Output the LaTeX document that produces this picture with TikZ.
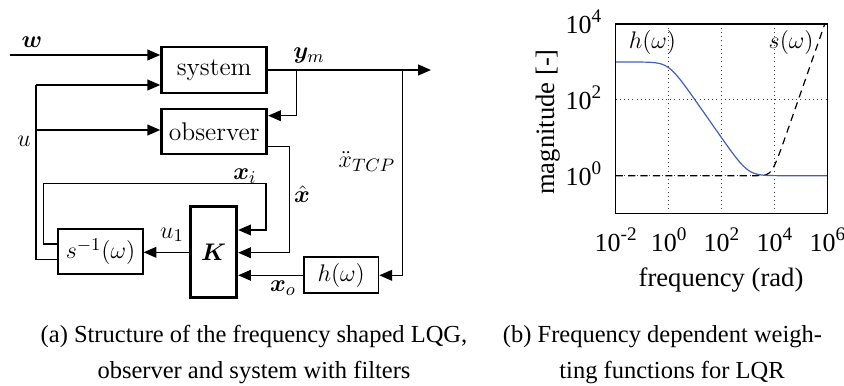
\documentclass[tikz,border=0pt]{standalone}
\usepackage{fontspec}
\usepackage{amsmath}
\usepackage{bm}
\newfontfamily\tim{Liberation Serif}
\usetikzlibrary{arrows.meta}
\definecolor{curveblue}{RGB}{64,96,192}
\newcommand\tenexp[1]{10\raisebox{5.6pt}{\fontsize{9.6}{10}\selectfont #1}}
\tikzset{
  ln/.style={line width=0.65pt},
  arr/.style={ln, -{Triangle[length=6.4pt,width=5.4pt]}},
  thickbox/.style={draw, line width=1.45pt, inner sep=0pt, font=\fontsize{12.8}{15}\selectfont},
  thinbox/.style={draw, line width=0.9pt, inner sep=0pt, font=\fontsize{12.8}{15}\selectfont},
  lbl/.style={inner sep=0pt, font=\fontsize{12.8}{15}\selectfont},
  ticklbl/.style={inner sep=0pt, font=\tim\fontsize{13}{15}\selectfont},
  axlbl/.style={inner sep=0pt, font=\tim\fontsize{13.3}{16}\selectfont},
  captxt/.style={inner sep=0pt, anchor=base, font=\tim\fontsize{12.25}{18}\selectfont},
  gridln/.style={line width=0.5pt, black!75, dash pattern=on 0.5pt off 1.6pt},
}
\begin{document}
\begin{tikzpicture}[x=0.5pt,y=-0.5pt]
\useasboundingbox (0,0) rectangle (844,385);

% ---------- block diagram ----------
\node[thickbox, minimum width=52.5pt, minimum height=23pt] (sys) at (214.2,70) {system};
\node[thickbox, minimum width=52.5pt, minimum height=22.5pt] (obs) at (214.2,131.5) {observer};
\node[thickbox, minimum width=23pt, minimum height=45.5pt] (K) at (213.7,252.3) {$\bm{K}$};
\node[thinbox, minimum width=42.2pt, minimum height=22.6pt] (sinv) at (100.5,251.7) {$s^{-1}(\omega)$};
\node[thinbox, minimum width=37.2pt, minimum height=18pt] (hb) at (341.2,275.3) {$h(\omega)$};

% w input
\coordinate (wst) at (10,55);
\draw[arr] (wst) -- (sys.west |- wst);
\node[lbl] (wl) at (32,42) {$\bm{w}$};

% y_m output
\coordinate (outend) at (431,70);
\draw[arr] (sys.east) -- (outend);
\node[lbl] (yml) at (309,56) {$\bm{y}_m$};
\coordinate (br1) at (296.7,70);
\coordinate (yobs) at (0,115.7);
\draw[arr] (br1) |- (obs.east |- yobs);

% u lines
\coordinate (uA) at (36,85);
\coordinate (uB) at (36,259.3);
\coordinate (uC) at (36,130);
\draw[ln] (sinv.west |- uB) -- (uB) -- (uA);
\draw[arr] (uA) -- (sys.west |- uA);
\draw[arr] (uC) -- (obs.west |- uC);
\node[lbl] (ul) at (24,141) {$u$};

% x_i loop
\coordinate (xiA) at (43.3,244);
\coordinate (xiB) at (43.3,183.3);
\coordinate (xiC) at (266,183.3);
\coordinate (xiD) at (266,230);
\draw[arr] (sinv.west |- xiA) -- (xiA) -- (xiB) -- (xiC) -- (xiD) -- (K.east |- xiD);
\node[lbl] (xil) at (245,176) {$\bm{x}_i$};

% x hat
\coordinate (xhA) at (289.3,146.7);
\coordinate (xhB) at (289.3,252.7);
\draw[arr] (obs.east |- xhA) -- (xhA) -- (xhB) -- (K.east |- xhB);
\node[lbl] (xhl) at (302,194) {$\hat{\bm{x}}$};

% K -> s^-1
\draw[arr] (K.west) -- (sinv.east |- K.west);
\node[lbl] (u1l) at (172,235) {$u_1$};

% h -> K
\draw[arr] (hb.west) -- (K.east |- hb.west);
\node[lbl] (xol) at (283,288) {$\bm{x}_o$};

% x_TCP
\coordinate (xtA) at (402.7,70);
\draw[arr] (xtA) |- (hb.east);
\node[lbl] (xtl) at (367,162) {$\ddot{x}_{TCP}$};

% ---------- plot ----------
\begin{scope}[shift={(668.6,175.7)}, x=13.23pt, y=18.95pt]
  \draw[gridln] (0,-1) -- (0,4);
  \draw[gridln] (2,-1) -- (2,4);
  \draw[gridln] (4,-1) -- (4,4);
  \draw[gridln] (-2,0) -- (6,0);
  \draw[gridln] (-2,2) -- (6,2);
  \begin{scope}
    \clip (-2,-1) rectangle (6,4);
    \draw[black, line width=0.6pt, dash pattern=on 3.6pt off 2.6pt]
      plot[domain=-2:5.95, samples=160, smooth]
      (\x, {0.5*(max(4*(\x-3.9),0) + log10(1+10^(-abs(4*(\x-3.9)))))});
    \draw[curveblue, line width=0.6pt]
      plot[domain=-2:6, samples=160, smooth]
      (\x, {3 - 0.5*(max(2*\x,0) + log10(1+10^(-abs(2*\x))))
              + 0.5*(max(2*(\x-3),0) + log10(1+10^(-abs(2*(\x-3)))))});
  \end{scope}
  \draw[ln] (-2,-1) rectangle (6,4);
  \node[lbl] (hlab) at (-0.61,3.51) {$h(\omega)$};
  \node[lbl] (slab) at (4.63,3.51) {$s(\omega)$};
  % x tick labels
  \node[ticklbl, anchor=base, yshift=-18.85pt] (xt1) at (-2,-1) {\tenexp{-2}};
  \node[ticklbl, anchor=base, yshift=-18.85pt] (xt2) at (0,-1) {\tenexp{0}};
  \node[ticklbl, anchor=base, yshift=-18.85pt] (xt3) at (2,-1) {\tenexp{2}};
  \node[ticklbl, anchor=base, yshift=-18.85pt] (xt4) at (4,-1) {\tenexp{4}};
  \node[ticklbl, anchor=base, yshift=-18.85pt] (xt5) at (6,-1) {\tenexp{6}};
  % y tick labels
  \node[ticklbl, anchor=base east, xshift=-7pt, yshift=-4.75pt] (yt1) at (-2,4) {\tenexp{4}};
  \node[ticklbl, anchor=base east, xshift=-7pt, yshift=-4.75pt] (yt2) at (-2,2) {\tenexp{2}};
  \node[ticklbl, anchor=base east, xshift=-7pt, yshift=-4.75pt] (yt3) at (-2,0) {\tenexp{0}};
\end{scope}
\node[axlbl, anchor=base] (xlab) at (721,286) {frequency (rad)};
\node[axlbl, rotate=90] (ylab) at (548,122) {magnitude [-]};

% ---------- captions ----------
\node[captxt] (ca1) at (254,342) {(a) Structure of the frequency shaped LQG,};
\node[captxt] (ca2) at (254,378) {observer and system with filters};
\node[captxt] (cb1) at (662.5,342) {(b) Frequency dependent weigh-};
\node[captxt] (cb2) at (672,378) {ting functions for LQR};
\end{tikzpicture}
\end{document}
